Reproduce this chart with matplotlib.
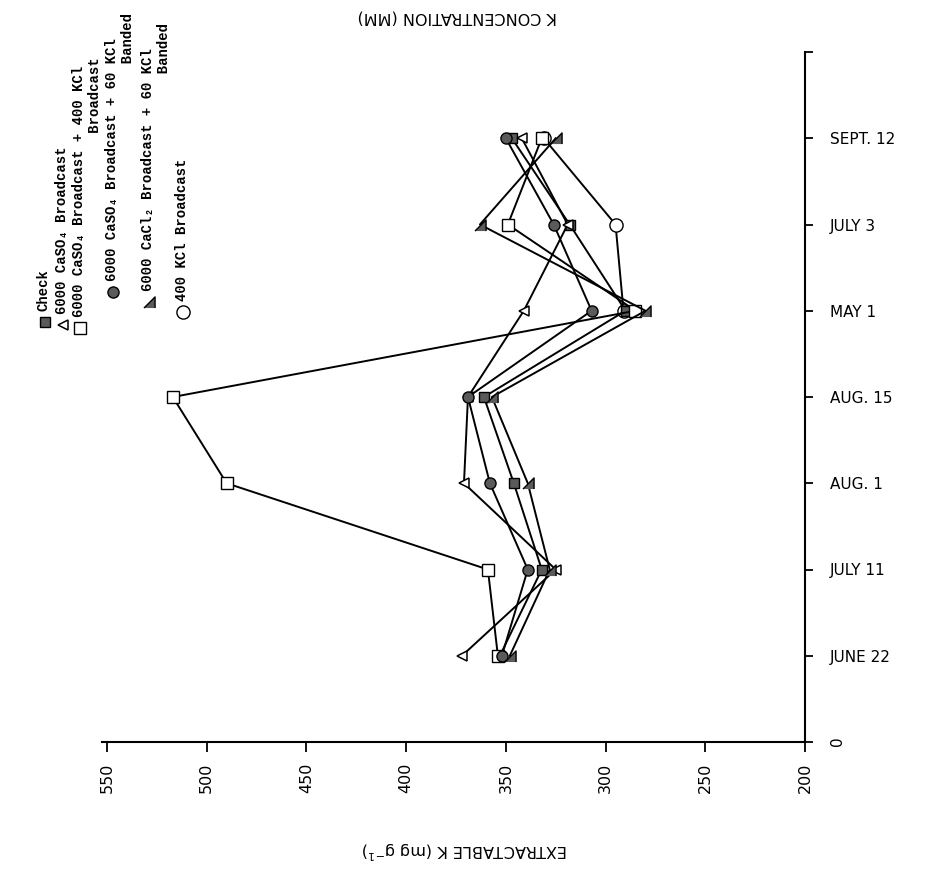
import numpy as np
import matplotlib
matplotlib.use('Agg')
import matplotlib.pyplot as plt
from matplotlib.lines import Line2D

# ---------------- data ----------------
date_labels = ['0', 'JUNE 22', 'JULY 11', 'AUG. 1', 'AUG. 15', 'MAY 1', 'JULY 3', 'SEPT. 12', '']
date_pos = [1, 2, 3, 4, 5, 6, 7]
check = [353, 332, 346, 361, 290, 318, 347]
caso4 = [372, 325, 371, 369, 341, 319, 342]
caso4_400kcl = [354, 359, 490, 517, 285, 349, 332]
caso4_60kcl = [352, 339, 358, 369, 307, 326, 350]
cacl2_60kcl = [348, 328, 339, 357, 280, 363, 325]
kcl400 = [np.nan, np.nan, np.nan, np.nan, 291, 295, 331]
value_ticks = [550, 500, 450, 400, 350, 300, 250, 200]

legend_labels = [
    'Check',
    '6000 CaSO\u2084 Broadcast',
    '6000 CaSO\u2084 Broadcast + 400 KCl\n                      Broadcast',
    '6000 CaSO\u2084 Broadcast + 60 KCl\n                          Banded',
    '6000 CaCl\u2082 Broadcast + 60 KCl\n                          Banded',
    '400 KCl Broadcast',
]

W, H = 931, 876
fig = plt.figure(figsize=(W / 100, H / 100), dpi=100)
ax = fig.add_axes([102 / W, 134 / H, 703 / W, 690 / H])

tri_rt = [(1, -1), (1, 1), (-1, -1)]
grey = '#5a5a5a'
styles = [
    dict(marker='s', ms=7.5, mfc=grey, mec='black', mew=1.0),
    dict(marker='<', ms=6.5, mfc='white', mec='black', mew=1.1),
    dict(marker='s', ms=8.5, mfc='white', mec='black', mew=1.0),
    dict(marker='o', ms=8.0, mfc=grey, mec='black', mew=1.0),
    dict(marker=tri_rt, ms=8.0, mfc=grey, mec='black', mew=1.0),
    dict(marker='o', ms=9.5, mfc='white', mec='black', mew=1.0),
]
series = [check, caso4, caso4_400kcl, caso4_60kcl, cacl2_60kcl, kcl400]
zorders = [5, 5, 5, 5, 5, 3]

for vals, st, z in zip(series, styles, zorders):
    ax.plot(vals, date_pos, color='black', lw=1.4, zorder=z, **st)

ax.set_xlim(552.5, 200)
ax.set_ylim(0, 8)

for s in ['left', 'top']:
    ax.spines[s].set_visible(False)
for s in ['bottom', 'right']:
    ax.spines[s].set_linewidth(1.5)

ax.set_xticks(value_ticks)
ax.set_xticklabels([str(v) for v in value_ticks], rotation=90, fontsize=11.5,
                   family='DejaVu Sans')
ax.tick_params(axis='x', direction='out', length=7, width=1.3, pad=8)

ax.yaxis.tick_right()
ax.set_yticks(range(9))
ax.set_yticklabels(date_labels, fontsize=11, family='DejaVu Sans')
ax.tick_params(axis='y', direction='out', length=6, width=1.3, pad=12)
ax.yaxis.get_ticklabels()[0].set_rotation(90)

# axis titles (page is rotated)
fig.text(465 / W, 1 - 850 / H, 'EXTRACTABLE K (mg g$^{-1}$)', rotation=180,
         ha='center', va='center', fontsize=11.5, family='DejaVu Sans')
fig.text(457 / W, 1 - 17 / H, 'K CONCENTRATION (MM)', rotation=180,
         ha='center', va='center', fontsize=11.5, family='DejaVu Sans')

# legend (rotated, typewritten)
leg_x = [45, 63, 80, 113, 149, 183]
leg_y = [322, 325, 328, 292, 302, 312]
for lab, st, x, y in zip(legend_labels, styles, leg_x, leg_y):
    fig.add_artist(Line2D([x / W], [1 - y / H], transform=fig.transFigure,
                          linestyle='none', **st))
    fig.text((x - 8) / W, 1 - (y - 11) / H, lab, rotation=90, ha='left', va='bottom',
             fontsize=10, family=['Liberation Mono', 'DejaVu Sans Mono'],
             fontweight='bold', linespacing=1.15)

fig.savefig('out.png', dpi=100)
